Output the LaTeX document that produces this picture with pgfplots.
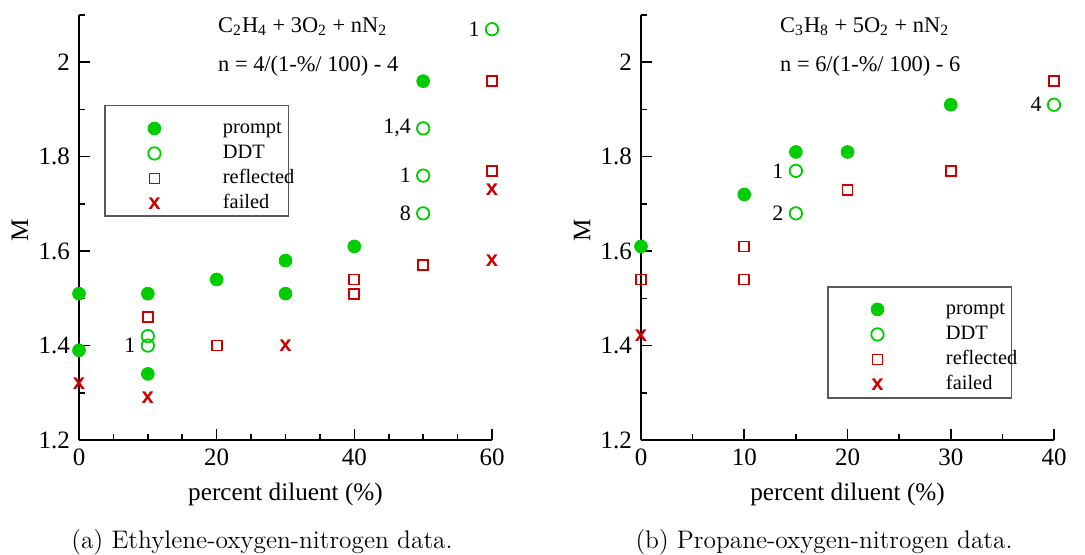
\documentclass[border=0pt]{standalone}
\usepackage{fontspec}
\usepackage{pgfplots}
\pgfplotsset{compat=1.18}
\newfontfamily\plotfont{Liberation Serif}
\newfontfamily\markfont{Liberation Sans}[BoldFont={* Bold}]
\definecolor{mgreen}{RGB}{0,205,0}
\definecolor{mred}{RGB}{205,0,0}

\tikzset{
  numlab/.style={anchor=east, inner sep=0pt, xshift=-6pt,
    font=\plotfont\fontsize{11}{13}\selectfont},
  note/.style={anchor=base west,
    font=\plotfont\fontsize{11.2}{13}\selectfont},
  legframe/.style={draw=black!65, line width=0.6pt},
}

\pgfplotsset{
  panel/.style={
    scale only axis,
    width=206.5pt, height=212.5pt,
    ymin=1.2, ymax=2.1,
    ytick={1.2,1.4,1.6,1.8,2.0},
    minor ytick={1.3,1.5,1.7,1.9,2.1},
    axis lines=left,
    axis line style={-, line width=1pt},
    tick style={black, line width=0.8pt},
    tick align=inside,
    major tick length=5.5pt,
    minor tick length=3pt,
    clip=false,
    ticklabel style={font=\plotfont\fontsize{12.5}{14}\selectfont},
    /pgf/number format/assume math mode=true,
    yticklabel style={xshift=-1pt},
    xticklabel style={yshift=-1pt},
    xlabel={\plotfont\fontsize{12.6}{14}\selectfont percent diluent (\%)},
    xlabel style={yshift=-1.5pt},
    legend cell align=left,
    legend image code/.code={
      \path[draw=none] (-24.5pt,-0.5pt) rectangle (33pt,0.5pt);
      \draw[##1] plot coordinates {(0pt,0pt)};
    },
    legend style={
      draw=none, fill=none,
      font=\plotfont\fontsize{10.2}{12}\selectfont,
      inner xsep=0pt, inner ysep=0pt,
      nodes={inner sep=1.25pt, text height=7.5pt, text depth=2.5pt},
      row sep=0pt,
    },
  },
  prompt/.style={only marks, mark=*, mark size=3.2pt, mgreen,
    mark options={fill=mgreen, draw=mgreen}},
  ddt/.style={only marks, mark=o, mark size=3.1pt, mgreen,
    mark options={draw=mgreen, line width=0.9pt}},
  refl/.style={only marks, mark=square, mark size=2.5pt, mred,
    mark options={draw=mred, line width=0.9pt}},
  fail/.style={only marks, mark=text,
    text mark={\textcolor{mred}{\fontsize{11}{11}\selectfont\markfont\bfseries x}},
    mred},
}

\begin{document}
\begin{tikzpicture}
\path[use as bounding box] (0,0) rectangle (542.5pt,277pt);

% (a) ethylene
\begin{axis}[panel,
  at={(39.5pt,57pt)}, anchor=south west,
  xmin=0, xmax=60,
  xtick={0,20,40,60},
  minor xtick={5,10,15,25,30,35,45,50,55},
  legend style={at={(rel axis cs:0.063,0.7635)}, anchor=north west},
]
\addplot[prompt] coordinates {
  (0,1.51) (0,1.39) (10,1.51) (10,1.34) (20,1.54) (30,1.58) (30,1.51) (40,1.61) (50,1.96)
};
\addplot[ddt] coordinates {
  (10,1.42) (10,1.40) (50,1.86) (50,1.76) (50,1.68) (60,2.07)
};
\addplot[refl] coordinates {
  (10,1.46) (20,1.40) (40,1.54) (40,1.51) (50,1.57) (60,1.96) (60,1.77)
};
\addplot[fail] coordinates {
  (0,1.32) (10,1.29) (30,1.40) (60,1.73) (60,1.58)
};
\legend{prompt, DDT, reflected, failed}
\draw[legframe] (rel axis cs:0.063,0.788) rectangle (rel axis cs:0.508,0.527);
\node[numlab] at (axis cs:60,2.07) {1};
\node[numlab] at (axis cs:50,1.86) {1,4};
\node[numlab] at (axis cs:50,1.76) {1};
\node[numlab] at (axis cs:50,1.68) {8};
\node[numlab] at (axis cs:10,1.40) {1};
\node[note] at (axis cs:19.2,2.064) {C\textsubscript{2}H\textsubscript{4} + 3O\textsubscript{2} + nN\textsubscript{2}};
\node[note] at (axis cs:19.2,1.981) {n = 4/(1-\%/ 100) - 4};
\end{axis}

% (b) propane
\begin{axis}[panel,
  at={(320.5pt,57pt)}, anchor=south west,
  xmin=0, xmax=40,
  xtick={0,10,20,30,40},
  minor xtick={5,15,25,35},
  legend style={at={(rel axis cs:0.453,0.3376)}, anchor=north west},
]
\addplot[prompt] coordinates {
  (0,1.61) (10,1.72) (15,1.81) (20,1.81) (30,1.91)
};
\addplot[ddt] coordinates {
  (15,1.77) (15,1.68) (40,1.91)
};
\addplot[refl] coordinates {
  (0,1.54) (10,1.61) (10,1.54) (20,1.73) (30,1.77) (40,1.96)
};
\addplot[fail] coordinates {
  (0,1.42)
};
\legend{prompt, DDT, reflected, failed}
\draw[legframe] (rel axis cs:0.453,0.36) rectangle (rel axis cs:0.898,0.099);
\node[numlab] at (axis cs:15,1.77) {1};
\node[numlab] at (axis cs:15,1.68) {2};
\node[numlab] at (axis cs:40,1.91) {4};
\node[note] at (axis cs:12.8,2.064) {C\textsubscript{3}H\textsubscript{8} + 5O\textsubscript{2} + nN\textsubscript{2}};
\node[note] at (axis cs:12.8,1.981) {n = 6/(1-\%/ 100) - 6};
\end{axis}

% y labels
\node[rotate=90, font=\plotfont\fontsize{12.6}{14}\selectfont] at (10pt,162pt) {M};
\node[rotate=90, font=\plotfont\fontsize{12.6}{14}\selectfont] at (291pt,162pt) {M};

% captions
\node[anchor=base, font=\fontsize{12.7}{15}\selectfont] at (131pt,3pt) {(a) Ethylene-oxygen-nitrogen data.};
\node[anchor=base, font=\fontsize{12.7}{15}\selectfont] at (412pt,3pt) {(b) Propane-oxygen-nitrogen data.};
\end{tikzpicture}
\end{document}
